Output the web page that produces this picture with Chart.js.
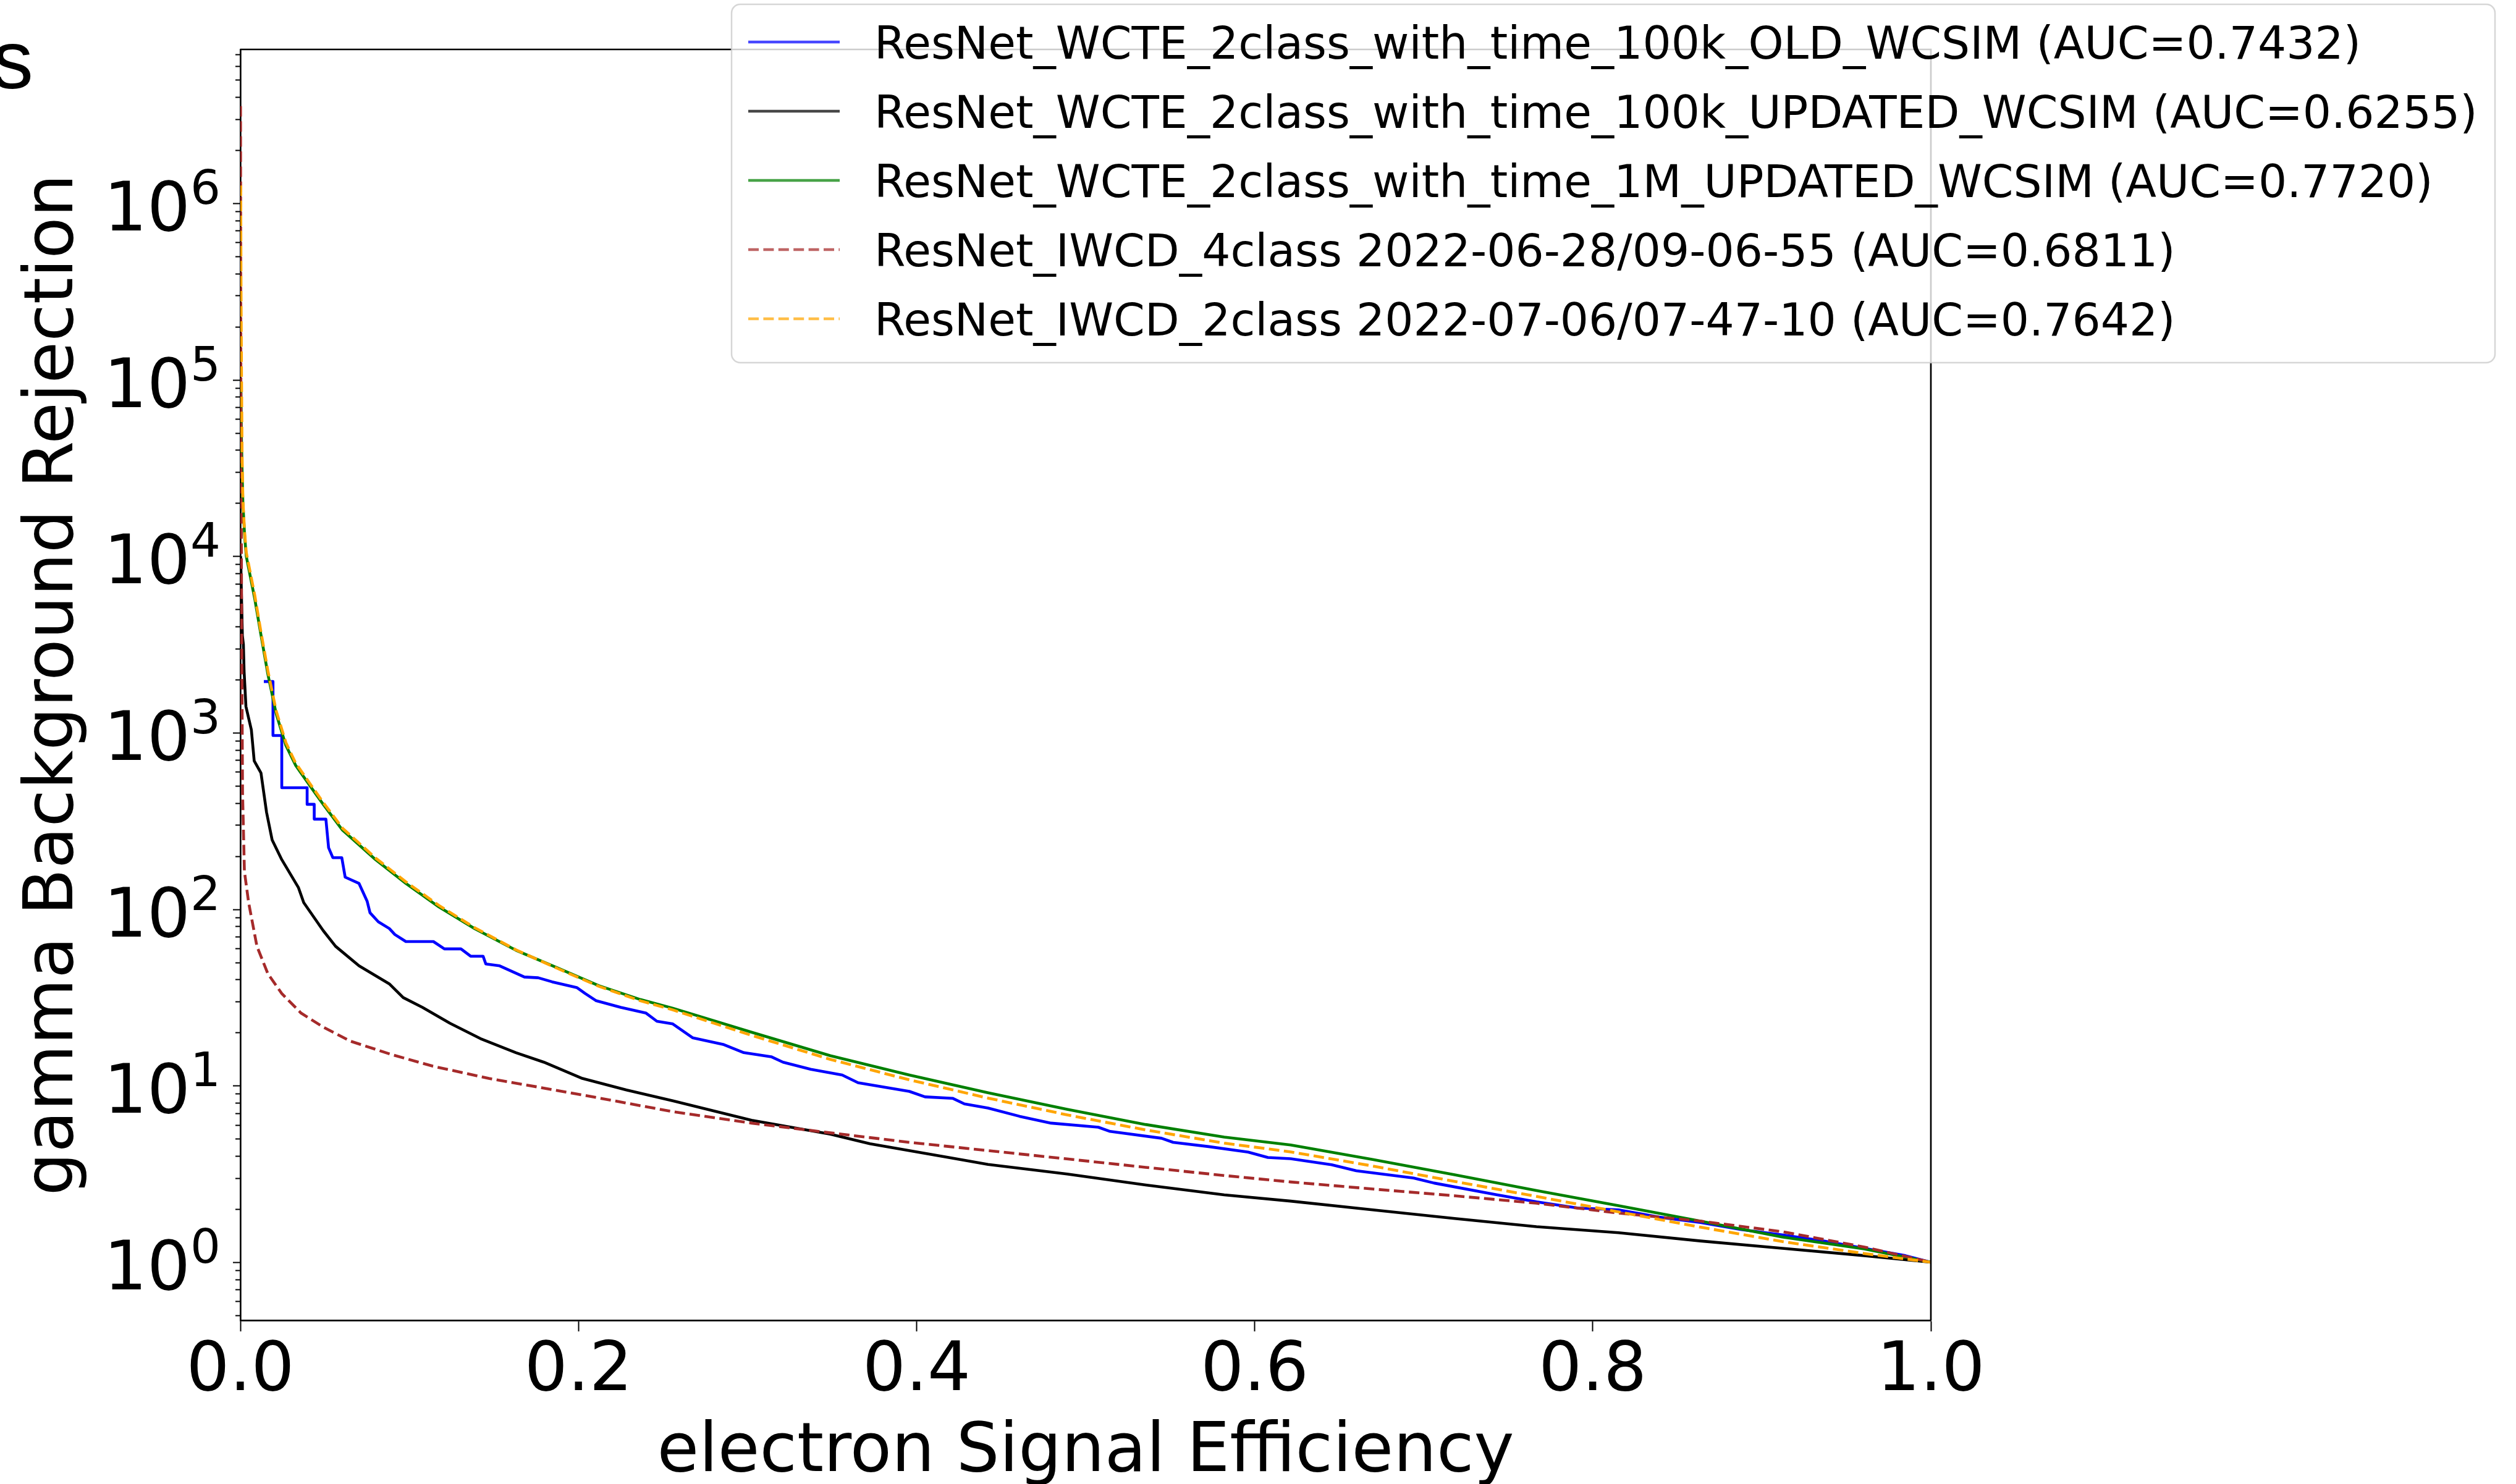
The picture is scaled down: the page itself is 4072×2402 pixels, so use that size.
<!DOCTYPE html>
<html>
<head>
<meta charset="utf-8">
<script src="https://cdn.jsdelivr.net/npm/chart.js@4.4.1/dist/chart.umd.min.js"></script>
<style>
html,body{margin:0;padding:0;background:#fff;overflow:hidden;}
canvas{display:block;}
</style>
</head>
<body>
<canvas id="c" width="4072" height="2402"></canvas>
<script>
// ---------------- data ----------------
const seriesLabels = [
  'ResNet_WCTE_2class_with_time_100k_OLD_WCSIM (AUC=0.7432)',
  'ResNet_WCTE_2class_with_time_100k_UPDATED_WCSIM (AUC=0.6255)',
  'ResNet_WCTE_2class_with_time_1M_UPDATED_WCSIM (AUC=0.7720)',
  'ResNet_IWCD_4class 2022-06-28/09-06-55 (AUC=0.6811)',
  'ResNet_IWCD_2class 2022-07-06/07-47-10 (AUC=0.7642)'
];
const xTitle = 'electron Signal Efficiency';
const yTitle = 'gamma Background Rejection';
const xTickLabels = ['0.0','0.2','0.4','0.6','0.8','1.0'];
const yTickExponents = [0,1,2,3,4,5,6];
const fragmentText = 's';

const effBlue = [0.0139,0.0193,0.0193,0.0245,0.0245,0.0395,0.0395,0.0437,0.0437,0.0506,0.0522,0.0547,0.0600,0.0620,0.0702,0.0750,0.0767,0.0816,0.0881,0.0914,0.0979,0.1142,0.1207,0.1305,0.1362,0.1436,0.1452,0.1534,0.1680,0.1762,0.1844,0.1990,0.2040,0.2105,0.2250,0.2400,0.2464,0.2558,0.2675,0.2860,0.2978,0.3140,0.3210,0.3374,0.3560,0.3654,0.3957,0.4050,0.4213,0.4283,0.4423,0.4610,0.4796,0.5075,0.5145,0.5449,0.5518,0.5728,0.5961,0.6078,0.6213,0.6455,0.6601,0.6940,0.7061,0.7425,0.7667,0.7910,0.8152,0.8394,0.8637,0.8879,0.9121,0.9364,0.9606,0.9849,1.0];
const rejBlue = [1950,1950,964,964,488,488,393,393,324,324,223,196,196,152,140,111,95.5,84.9,77.8,71.9,65.6,65.6,59.6,59.6,54.2,54.2,49.0,47.8,41.3,40.9,38.8,36.0,33.3,30.3,27.8,25.8,23.2,22.4,18.7,17.1,15.4,14.6,13.6,12.4,11.5,10.4,9.29,8.65,8.49,7.89,7.48,6.71,6.14,5.82,5.51,5.04,4.78,4.52,4.21,3.92,3.86,3.57,3.30,3.00,2.81,2.42,2.20,2.03,1.98,1.80,1.68,1.53,1.43,1.32,1.20,1.09,1.0];

const effBlack = [0.0002,0.0006,0.0012,0.0018,0.0022,0.0033,0.0065,0.0082,0.0122,0.0155,0.0188,0.0245,0.0343,0.0375,0.0490,0.0563,0.0702,0.0881,0.0963,0.1077,0.1240,0.1420,0.1630,0.1795,0.2023,0.2284,0.2558,0.3024,0.3490,0.3724,0.4190,0.4423,0.4890,0.5355,0.5820,0.6213,0.6698,0.7183,0.7667,0.8152,0.8637,0.9121,0.9606,1.0];
const rejBlack = [10000,6310,3550,3160,2240,1410,1040,692,592,354,247,191,133,109,75.7,61.7,47.8,37.8,31.6,27.8,22.6,18.5,15.4,13.6,11.0,9.46,8.22,6.37,5.32,4.69,3.92,3.58,3.16,2.74,2.41,2.22,1.98,1.77,1.59,1.47,1.32,1.20,1.09,1.0];

const effGreen = [0.0003,0.0006,0.0010,0.0015,0.0025,0.0035,0.0085,0.0122,0.0163,0.0212,0.0269,0.0326,0.0424,0.0490,0.0604,0.0800,0.0979,0.1175,0.1387,0.1630,0.1876,0.2120,0.2366,0.2558,0.3024,0.3490,0.3957,0.4423,0.4890,0.5355,0.5820,0.6213,0.6698,0.7183,0.7667,0.8152,0.8637,0.9121,0.9606,1.0];
const rejGreen = [98000,50000,31600,20000,13200,10000,5750,3580,2140,1280,849,656,482,393,281,191,140,103,77.6,58.6,46.5,36.9,30.8,27.5,20.1,14.8,11.5,9.12,7.35,6.03,5.12,4.62,3.82,3.13,2.55,2.09,1.71,1.39,1.19,1.0];

const effRed = [0.0001,0.0002,0.0003,0.0005,0.0008,0.0013,0.0024,0.0049,0.0098,0.0163,0.0245,0.0359,0.0490,0.0650,0.0897,0.1140,0.1470,0.1795,0.2120,0.2558,0.3024,0.3490,0.3957,0.4423,0.4890,0.5355,0.5820,0.6213,0.6698,0.7183,0.7667,0.8152,0.8637,0.9121,0.9606,1.0];
const rejRed = [3550000,631000,100000,20000,3550,457,164,109,61.7,43.1,33.3,25.8,21.5,17.9,15.0,12.9,11.0,9.70,8.53,7.13,6.14,5.41,4.78,4.29,3.85,3.45,3.10,2.85,2.60,2.38,2.16,1.90,1.71,1.49,1.22,1.0];

const effOrange = [0.0002,0.0004,0.0007,0.0010,0.0015,0.0025,0.0035,0.0085,0.0122,0.0163,0.0212,0.0269,0.0326,0.0424,0.0490,0.0604,0.0800,0.0979,0.1175,0.1387,0.1630,0.1876,0.2120,0.2366,0.2558,0.3024,0.3490,0.3957,0.4423,0.4890,0.5355,0.5820,0.6213,0.6698,0.7183,0.7667,0.8152,0.8637,0.9121,0.9606,1.0];
const rejOrange = [1260000,316000,100000,39800,20900,13800,10500,6030,3720,2240,1330,881,676,495,403,288,195,143,105,78.5,58.9,46.2,36.6,30.3,26.9,19.3,14.1,10.8,8.51,6.84,5.62,4.73,4.22,3.51,2.87,2.36,1.93,1.58,1.31,1.12,1.0];

// ---------------- styling ----------------
const FONT = "'DejaVu Sans', sans-serif";
const LW = 4.6;
const DASH = [17, 7.4];
const colors = ['#0000ff', '#000000', '#008000', '#a52a2a', '#ffa500'];
const dashes = [[], [], [], DASH, DASH];
const drawOrder = [5, 4, 3, 2, 1];

function pts(xs, ys) { return xs.map((x, i) => ({x: x, y: ys[i]})); }
const seriesData = [pts(effBlue, rejBlue), pts(effBlack, rejBlack), pts(effGreen, rejGreen), pts(effRed, rejRed), pts(effOrange, rejOrange)];

const datasets = seriesData.map((d, i) => ({
  label: seriesLabels[i],
  data: d,
  borderColor: colors[i],
  backgroundColor: colors[i],
  borderWidth: LW,
  borderDash: dashes[i],
  borderJoinStyle: 'round',
  borderCapStyle: 'butt',
  pointRadius: 0,
  fill: false,
  tension: 0,
  order: drawOrder[i]
}));

const decorPlugin = {
  id: 'decor',
  afterDraw(chart) {
    const ctx = chart.ctx;
    const ca = chart.chartArea;
    const y = chart.scales.y;
    ctx.save();
    // top & right spines
    ctx.strokeStyle = '#000';
    ctx.lineWidth = 2.7;
    ctx.setLineDash([]);
    ctx.beginPath();
    ctx.moveTo(ca.left, ca.top);
    ctx.lineTo(ca.right, ca.top);
    ctx.lineTo(ca.right, ca.bottom);
    ctx.stroke();

    // y tick marks (major + minor)
    ctx.lineWidth = 2;
    for (let e = -1; e <= 6; e++) {
      for (let k = 1; k <= 9; k++) {
        const v = k * Math.pow(10, e);
        if (v < y.min || v > y.max) continue;
        const py = Math.round(y.getPixelForValue(v)) + 0.5;
        const len = (k === 1) ? 12 : 8;
        ctx.beginPath();
        ctx.moveTo(ca.left - len, py);
        ctx.lineTo(ca.left, py);
        ctx.stroke();
      }
    }
    // y tick labels 10^n
    ctx.fillStyle = '#000';
    ctx.textBaseline = 'alphabetic';
    ctx.textAlign = 'right';
    const rightEdge = ca.left - 32;
    yTickExponents.forEach(e => {
      const py = y.getPixelForValue(Math.pow(10, e));
      const es = String(e);
      ctx.font = '77px ' + FONT;
      ctx.fillText(es, rightEdge, py + 1);
      const w = ctx.measureText(es).width;
      ctx.font = '110px ' + FONT;
      ctx.fillText('10', rightEdge - w, py + 44);
    });

    // cut-off fragment at top-left
    ctx.font = "134px 'Liberation Sans', sans-serif";
    ctx.textAlign = 'right';
    ctx.fillText(fragmentText, 54, 143);

    // legend
    const L = {x: 1184, y: 7, w: 2854, h: 580, r: 14};
    ctx.beginPath();
    if (ctx.roundRect) ctx.roundRect(L.x, L.y, L.w, L.h, L.r); else ctx.rect(L.x, L.y, L.w, L.h);
    ctx.fillStyle = 'rgba(255,255,255,0.8)';
    ctx.fill();
    ctx.strokeStyle = 'rgba(204,204,204,0.8)';
    ctx.lineWidth = 2.5;
    ctx.stroke();
    ctx.textAlign = 'left';
    ctx.font = '72.7px ' + FONT;
    chart.data.datasets.forEach((ds, i) => {
      const ly = 68 + i * 112;
      ctx.save();
      ctx.globalAlpha = 0.72;
      ctx.strokeStyle = ds.borderColor;
      ctx.lineWidth = LW;
      ctx.setLineDash(ds.borderDash || []);
      ctx.beginPath();
      ctx.moveTo(1211, ly);
      ctx.lineTo(1359, ly);
      ctx.stroke();
      ctx.restore();
      ctx.fillStyle = '#000';
      ctx.fillText(ds.label, 1415, ly + 27);
    });
    ctx.restore();
  }
};

new Chart(document.getElementById('c').getContext('2d'), {
  type: 'line',
  data: { datasets: datasets },
  options: {
    responsive: false,
    animation: false,
    devicePixelRatio: 1,
    layout: { padding: { left: 0, top: 80, right: 947, bottom: 0 } },
    plugins: { legend: { display: false }, tooltip: { enabled: false } },
    scales: {
      x: {
        type: 'linear', min: 0, max: 1,
        ticks: {
          stepSize: 0.2, autoSkip: false, maxRotation: 0, minRotation: 0, padding: 11,
          color: '#000', font: { family: FONT, size: 110, lineHeight: 1 },
          callback: (v, i) => xTickLabels[i]
        },
        grid: { display: true, drawOnChartArea: false, drawTicks: true, tickLength: 18, tickWidth: 2, tickColor: '#000' },
        border: { display: true, color: '#000', width: 2.7 },
        title: { display: true, text: xTitle, color: '#000', font: { family: FONT, size: 110, lineHeight: 1 }, padding: { top: 0, bottom: -5 } },
        afterFit: s => { s.height = 265; }
      },
      y: {
        type: 'logarithmic', min: 0.469, max: 7.44e6,
        ticks: { display: false },
        grid: { display: false },
        border: { display: true, color: '#000', width: 2.7 },
        title: { display: true, text: yTitle, color: '#000', font: { family: FONT, size: 110, lineHeight: 1 }, padding: { top: 33, bottom: 0 } },
        afterFit: s => { s.width = 389; }
      }
    }
  },
  plugins: [decorPlugin]
});
</script>
</body>
</html>
